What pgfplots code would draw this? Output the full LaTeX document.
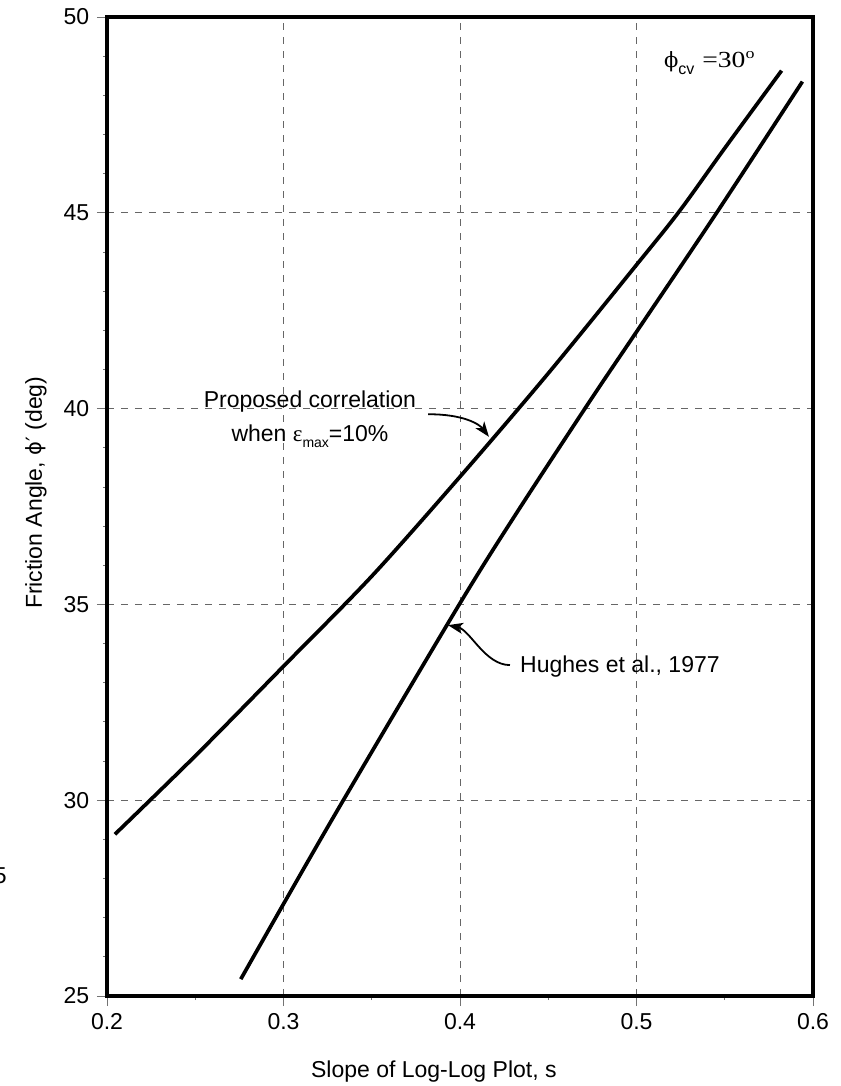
\documentclass[border=0pt]{standalone}
\usepackage{pgfplots}
\pgfplotsset{compat=1.18}
\usepackage{graphicx}
\usetikzlibrary{arrows.meta}
\usepackage{fontspec}
\setmainfont{Liberation Sans}
\newfontfamily\seriffont{Liberation Serif}
\newfontfamily\dvserif{DejaVu Serif}
\newfontfamily\dvsans{DejaVu Sans}
\begin{document}
\fontsize{23bp}{27bp}\selectfont
\begin{tikzpicture}
\useasboundingbox (-107bp,-90bp) rectangle (734bp,996bp);
\begin{axis}[
  scale only axis, width=706bp, height=979bp,
  xmin=0.2, xmax=0.6, ymin=25, ymax=50,
  xtick={0.2,0.3,0.4,0.5,0.6}, xticklabels={0.2,0.3,0.4,0.5,0.6},
  ytick={25,30,35,40,45,50}, yticklabels={25,30,35,40,45,50},
  minor x tick num=1, minor y tick num=4,
  tick pos=left, tick align=outside,
  major tick length=10bp, minor tick length=4bp,
  every tick/.style={black!55, line width=0.8bp},
  axis line style={line width=3.5bp},
  grid=major,
  major grid style={black!60, line width=0.9bp, dash pattern=on 7bp off 7bp},
  xlabel={Slope of Log-Log Plot, s},
  ylabel={Friction Angle, {\dvsans\fontsize{21bp}{24bp}\selectfont ϕ′} (deg)},
  xlabel style={at={(axis description cs:0.463,-0.0776)}, anchor=center},
  ylabel style={at={(axis description cs:-0.1006,0.514)}, anchor=center},
  clip=false,
]
\addplot[black, line width=3.7bp, line join=round, smooth, tension=0.5] coordinates {
 (0.2045,29.13) (0.25,31.13) (0.30,33.42) (0.35,35.72) (0.40,38.26)
 (0.45,40.90) (0.50,43.67) (0.5243,45.04) (0.55,46.65) (0.5822,48.63)
};
\addplot[black, line width=3.7bp, line join=round, smooth, tension=0.5] coordinates {
 (0.2758,25.43) (0.30,27.35) (0.3339,30.00) (0.3996,35.00) (0.432,37.33)
 (0.4737,40.20) (0.50,41.96) (0.5454,45.00) (0.594,48.35)
};
% annotations
\node[anchor=base, inner sep=0pt] at (axis cs:0.3150,40.04) {Proposed correlation};
\node[anchor=base, inner sep=0pt] at (axis cs:0.3150,39.17)
  {when {\seriffont ε}\raisebox{-6bp}{\fontsize{14bp}{14bp}\selectfont max}=10\%};
\draw[black, line width=1.8bp, -{Stealth[length=15bp,width=11bp,inset=4bp]}]
  (axis cs:0.3819,39.855) .. controls (axis cs:0.402,39.86) and (axis cs:0.411,39.60)
  .. (axis cs:0.4164,39.28);
\node[anchor=base west, inner sep=0pt] at (axis cs:0.434,33.27) {Hughes et al., 1977};
\draw[black, line width=1.8bp, -{Stealth[length=15bp,width=11bp,inset=4bp]}]
  (axis cs:0.4283,33.45) .. controls (axis cs:0.4142,33.45) and (axis cs:0.4057,34.35)
  .. (axis cs:0.3932,34.47);
\node[anchor=base west, inner sep=0pt] at (axis cs:0.5155,48.72)
  {{\dvserif\fontsize{21bp}{26bp}\selectfont ϕ}\raisebox{-7bp}{\fontsize{16bp}{16bp}\selectfont cv}\hspace{8bp}\scalebox{1.2}[1]{\seriffont\fontsize{23bp}{26bp}\selectfont =30\raisebox{9bp}{\fontsize{15bp}{15bp}\selectfont o}}};
\node[anchor=east, inner sep=0pt] at (axis cs:0.1433,28.06) {5};
\end{axis}
\end{tikzpicture}
\end{document}
